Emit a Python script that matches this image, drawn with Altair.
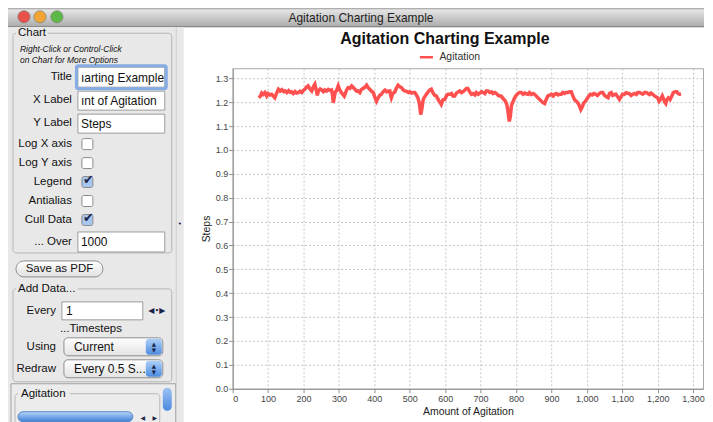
import altair as alt
import pandas as pd

# ------------------------------------------------------------------ data
chart_title = "Agitation Charting Example"
series_name = "Agitation"
x_title = "Amount of Agitation"
y_title = "Steps"
x_ticks = [0, 100, 200, 300, 400, 500, 600, 700, 800, 900, 1000, 1100, 1200, 1300]
y_ticks = [0.0, 0.1, 0.2, 0.3, 0.4, 0.5, 0.6, 0.7, 0.8, 0.9, 1.0, 1.1, 1.2, 1.3]

amount = [
    74, 78, 82, 86, 91, 96, 100, 105, 110, 114,
    119, 124, 129, 134, 139, 144, 148, 153, 158, 162,
    166, 171, 176, 180, 185, 190, 195, 200, 204, 208,
    213, 218, 223, 227, 232, 236, 239, 242, 247, 251,
    256, 260, 265, 270, 275, 279, 282, 284, 287, 290,
    293, 296, 298, 302, 307, 311, 315, 319, 322, 326,
    331, 336, 340, 345, 350, 354, 359, 363, 368, 373,
    378, 382, 387, 392, 397, 401, 406, 410, 415, 420,
    425, 430, 435, 440, 444, 446, 448, 452, 458, 462,
    467, 472, 477, 481, 486, 491, 496, 500, 505, 510,
    514, 518, 523, 527, 531, 534, 538, 542, 547, 552,
    556, 561, 566, 571, 575, 580, 585, 589, 594, 599,
    604, 608, 613, 618, 622, 627, 632, 637, 641, 646,
    650, 655, 660, 664, 669, 674, 679, 684, 688, 693,
    698, 703, 707, 712, 716, 721, 726, 731, 735, 740,
    745, 750, 754, 758, 762, 766, 770, 774, 777, 781,
    784, 787, 791, 795, 800, 805, 810, 815, 820, 825,
    829, 834, 838, 843, 848, 852, 857, 862, 867, 872,
    876, 881, 885, 890, 895, 900, 905, 909, 914, 919,
    923, 928, 932, 937, 941, 946, 951, 956, 960, 965,
    970, 975, 979, 983, 987, 991, 996, 1001, 1006, 1010,
    1015, 1020, 1025, 1030, 1035, 1040, 1045, 1050, 1055, 1060,
    1064, 1069, 1073, 1078, 1082, 1087, 1092, 1097, 1101, 1106,
    1111, 1116, 1120, 1125, 1130, 1135, 1140, 1144, 1149, 1154,
    1158, 1163, 1168, 1172, 1177, 1181, 1186, 1191, 1196, 1200,
    1204, 1209, 1213, 1217, 1220, 1223, 1226, 1230, 1235, 1240,
    1244, 1249, 1254, 1258, 1262, 1266,
]
steps = [
    1.218, 1.225, 1.238, 1.232, 1.240, 1.226, 1.236, 1.230, 1.233, 1.226,
    1.218, 1.238, 1.254, 1.246, 1.252, 1.244, 1.247, 1.240, 1.248, 1.241,
    1.243, 1.236, 1.244, 1.238, 1.240, 1.246, 1.240, 1.250, 1.254, 1.262,
    1.268, 1.255, 1.247, 1.262, 1.275, 1.250, 1.228, 1.247, 1.255, 1.251,
    1.244, 1.251, 1.246, 1.253, 1.249, 1.251, 1.228, 1.197, 1.222, 1.244,
    1.247, 1.260, 1.268, 1.252, 1.240, 1.232, 1.225, 1.240, 1.252, 1.261,
    1.258, 1.268, 1.262, 1.254, 1.246, 1.247, 1.240, 1.252, 1.257, 1.262,
    1.271, 1.262, 1.254, 1.246, 1.240, 1.222, 1.204, 1.216, 1.228, 1.233,
    1.244, 1.250, 1.243, 1.247, 1.247, 1.228, 1.218, 1.236, 1.243, 1.258,
    1.271, 1.264, 1.261, 1.252, 1.247, 1.245, 1.240, 1.243, 1.238, 1.240,
    1.240, 1.232, 1.218, 1.196, 1.148, 1.170, 1.211, 1.222, 1.233, 1.243,
    1.250, 1.254, 1.238, 1.228, 1.226, 1.212, 1.200, 1.190, 1.210, 1.211,
    1.228, 1.233, 1.233, 1.236, 1.226, 1.226, 1.238, 1.243, 1.247, 1.240,
    1.243, 1.250, 1.257, 1.257, 1.244, 1.233, 1.236, 1.230, 1.240, 1.233,
    1.238, 1.244, 1.240, 1.236, 1.247, 1.247, 1.240, 1.243, 1.236, 1.240,
    1.236, 1.228, 1.226, 1.226, 1.218, 1.211, 1.204, 1.190, 1.165, 1.119,
    1.140, 1.185, 1.200, 1.214, 1.228, 1.236, 1.240, 1.240, 1.233, 1.238,
    1.235, 1.233, 1.240, 1.232, 1.236, 1.233, 1.226, 1.218, 1.211, 1.204,
    1.198, 1.194, 1.210, 1.226, 1.229, 1.233, 1.226, 1.233, 1.236, 1.230,
    1.233, 1.233, 1.240, 1.236, 1.240, 1.240, 1.243, 1.243, 1.228, 1.211,
    1.204, 1.196, 1.184, 1.169, 1.180, 1.196, 1.204, 1.215, 1.226, 1.233,
    1.230, 1.236, 1.233, 1.228, 1.236, 1.240, 1.240, 1.228, 1.222, 1.218,
    1.236, 1.240, 1.228, 1.232, 1.233, 1.222, 1.211, 1.224, 1.233, 1.232,
    1.240, 1.236, 1.236, 1.228, 1.233, 1.236, 1.232, 1.240, 1.240, 1.236,
    1.233, 1.240, 1.240, 1.236, 1.232, 1.238, 1.233, 1.226, 1.222, 1.218,
    1.204, 1.214, 1.226, 1.212, 1.200, 1.194, 1.210, 1.218, 1.211, 1.226,
    1.240, 1.243, 1.243, 1.236, 1.233, 1.234,
]
assert len(amount) == len(steps)

data = pd.DataFrame({"amount": amount, "steps": steps, "series": series_name})

# ------------------------------------------------------------------ layout
OX, OY = 233, 68          # plot origin on the page
PW, PH = 471, 321         # plot size
FONT = "Liberation Sans"
SYM = "DejaVu Sans"


def boxes(rows, colors=None):
    d = pd.DataFrame(rows, columns=["X1", "Y1", "X2", "Y2"])
    out = pd.DataFrame({"x": d.X1 - OX, "x2": d.X2 - OX, "y": d.Y1 - OY, "y2": d.Y2 - OY})
    if colors is not None:
        out["c"] = colors
    return out


def rect_layer(rows, colors=None, **kw):
    enc = dict(
        x=alt.X("x:Q", scale=None, axis=None), x2=alt.X2("x2:Q"),
        y=alt.Y("y:Q", scale=None, axis=None), y2=alt.Y2("y2:Q"),
    )
    if colors is not None:
        enc["fill"] = alt.Fill("c:N", scale=None, legend=None)
    return alt.Chart(boxes(rows, colors)).mark_rect(**kw).encode(**enc)


def text_layer(rows, **kw):
    d = pd.DataFrame(rows, columns=["t", "X", "Y", "s"])
    d["x"] = d.X - OX
    d["y"] = d.Y - OY
    return alt.Chart(d).mark_text(baseline="middle", **kw).encode(
        x=alt.X("x:Q", scale=None, axis=None),
        y=alt.Y("y:Q", scale=None, axis=None),
        text="t:N",
        size=alt.Size("s:Q", scale=None, legend=None),
    )


def vgrad(c0, c1):
    return alt.LinearGradient(
        gradient="linear", x1=0, x2=0, y1=0, y2=1,
        stops=[alt.GradientStop(color=c0, offset=0), alt.GradientStop(color=c1, offset=1)],
    )


layers = []

# window title bar
layers.append(rect_layer([(8, 8, 705, 26)], fill=vgrad("#eaeaea", "#adadad")))
layers.append(rect_layer([(8, 8, 705, 9), (8, 26, 705, 27)], colors=["#9a9a9a", "#6a6a6a"]))
lights = pd.DataFrame({"x": [24 - OX, 40 - OX, 57 - OX], "y": [16.5 - OY] * 3,
                       "c": ["#e8524a", "#f0a534", "#5cb947"]})
layers.append(alt.Chart(lights).mark_point(filled=True, size=150, opacity=1,
                                           stroke="#777777", strokeWidth=0.6).encode(
    x=alt.X("x:Q", scale=None, axis=None), y=alt.Y("y:Q", scale=None, axis=None),
    fill=alt.Fill("c:N", scale=None, legend=None)))

# left control panel
layers.append(rect_layer([(8, 27, 184, 424), (176, 27, 177, 384), (11, 384, 176, 424)],
                         colors=["#e8e8e8", "#cfcfcf", "#ececec"]))
layers.append(rect_layer([(11, 384, 176, 424)], fill="#ececec", stroke="#a2a2a2", strokeWidth=1))
layers.append(rect_layer([(13, 33, 172, 253), (13, 289, 172, 382), (15, 394, 160, 424)],
                         fillOpacity=0, stroke="#b6b6b6", strokeWidth=1, cornerRadius=3))
layers.append(rect_layer([(16, 27, 48, 39), (16, 283, 78, 295), (18, 388, 70, 400)],
                         colors=["#e8e8e8", "#e8e8e8", "#ececec"]))
# text fields
layers.append(rect_layer([(78, 67, 165, 87), (78, 91, 165, 110), (78, 114, 165, 133),
                          (78, 232, 165, 252), (62, 302, 143, 320)],
                         fill="#ffffff", stroke="#9c9c9c", strokeWidth=1))
layers.append(rect_layer([(76.5, 65.5, 166.5, 88.5)], fillOpacity=0, stroke="#86ace4",
                         strokeWidth=3, cornerRadius=2))
# check boxes
layers.append(rect_layer([(82, 138.5, 93, 149.5), (82, 157.5, 93, 168.5), (82, 176.5, 93, 187.5),
                          (82, 195.5, 93, 206.5), (82, 214.5, 93, 225.5)],
                         colors=["#ffffff", "#ffffff", "#a9c6ef", "#ffffff", "#a9c6ef"],
                         stroke="#8a8a8a", strokeWidth=1, cornerRadius=2))
# buttons and combo boxes
layers.append(rect_layer([(16, 261, 103, 277)], fill=vgrad("#ffffff", "#e0e0e0"),
                         stroke="#8d8d8d", strokeWidth=1, cornerRadius=8))
layers.append(rect_layer([(64, 338, 163, 356), (64, 360, 163, 378)], fill=vgrad("#ffffff", "#e2e2e2"),
                         stroke="#8d8d8d", strokeWidth=1, cornerRadius=4))
layers.append(rect_layer([(146, 339, 162, 355), (146, 361, 162, 377)], fill=vgrad("#acd0f8", "#4d8ce0"),
                         cornerRadius=3))
layers.append(rect_layer([(163, 388, 172, 411)], fill=vgrad("#9cc2f4", "#4c8ade"), cornerRadius=4.5))
layers.append(rect_layer([(18, 412, 133, 422)], fill=vgrad("#b6d4f8", "#3d7fd9"),
                         stroke="#5a86c4", strokeWidth=1, cornerRadius=5))

# panel texts
layers.append(text_layer([
    ("Chart", 18, 33, 11.5), ("Add Data...", 18, 289, 11.5), ("...Timesteps", 60, 329, 11.5),
    ("Agitation", 21, 394, 11.5),
    ("\u0131arting Example", 81, 77.5, 12), ("\u0131nt of Agitation", 81, 100.5, 12),
    ("Steps", 81, 123.5, 12), ("1000", 81, 242.5, 12), ("1", 66, 311.5, 12),
    ("Current", 74, 347.5, 12), ("Every 0.5 S...", 74, 369.5, 12),
], align="left", font=FONT, color="#111111"))
layers.append(text_layer([
    ("Right-Click or Control-Click", 20, 49, 8.5), ("on Chart for More Options", 20, 60, 8.5),
], align="left", font=FONT, fontStyle="italic", color="#111111"))
layers.append(text_layer([
    ("Title", 72, 77, 11.5), ("X Label", 72, 100, 11.5), ("Y Label", 72, 123, 11.5),
    ("Log X axis", 72, 144, 11.5), ("Log Y axis", 72, 163, 11.5), ("Legend", 72, 182, 11.5),
    ("Antialias", 72, 201, 11.5), ("Cull Data", 72, 220, 11.5), ("... Over", 72, 242, 11.5),
    ("Every", 56, 311, 11.5), ("Using", 56, 347, 11.5), ("Redraw", 56, 369, 11.5),
], align="right", font=FONT, color="#111111"))
layers.append(text_layer([("Save as PDF", 59.5, 269, 11.5)], align="center", font=FONT, color="#111111"))
layers.append(text_layer([
    ("\u2714", 88.5, 180, 13), ("\u2714", 88.5, 218, 13),
    ("\u25c0\u2022\u25b6", 157, 311, 8),
    ("\u25b2", 154, 344, 5.5), ("\u25bc", 154, 350.5, 5.5),
    ("\u25b2", 154, 366, 5.5), ("\u25bc", 154, 372.5, 5.5),
    ("\u25c0", 143, 418, 6), ("\u25b6", 155, 418, 6), ("\u2022", 180, 224, 7),
], align="center", font=SYM, color="#1b2448"))

# window title and chart title
layers.append(text_layer([(chart_title, 361.5, 17.5, 12)], align="center", font=FONT, color="#222222"))
layers.append(text_layer([(chart_title, 445.5, 38.5, 16)], align="center", font=FONT,
                         fontWeight="bold", color="#111111"))

# ------------------------------------------------------------------ the data line
line = alt.Chart(data).mark_line(strokeWidth=3.5).encode(
    x=alt.X("amount:Q", scale=alt.Scale(domain=[0, 1328], nice=False, zero=False),
            axis=alt.Axis(values=x_ticks, format=",d", title=x_title, labelPadding=2, titlePadding=3)),
    y=alt.Y("steps:Q", scale=alt.Scale(domain=[0, 1.342], nice=False),
            axis=alt.Axis(values=y_ticks, format=".1f", title=y_title, labelPadding=1, titlePadding=4)),
    color=alt.Color("series:N", scale=alt.Scale(domain=[series_name], range=["#ff5050"]),
                    legend=alt.Legend(title=None, orient="none", legendX=186, legendY=-19,
                                      symbolType="stroke", symbolSize=170, symbolStrokeWidth=2.5,
                                      labelFont=FONT, labelFontSize=10.5, labelColor="#333333",
                                      labelOffset=5, padding=0)),
)
layers.append(line)

chart = (
    alt.layer(*layers)
    .properties(width=PW, height=PH, padding=0)
    .configure_view(stroke="#a9a9a9", strokeWidth=1)
    .configure_axis(
        grid=True, gridColor="#c6c6c6", gridDash=[2, 2], gridWidth=1,
        domainColor="#8e8e8e", tickColor="#8e8e8e", tickSize=4,
        labelFont=FONT, labelFontSize=9, labelColor="#444444",
        titleFont=FONT, titleFontSize=10.5, titleFontWeight="normal", titleColor="#222222",
    )
)

chart.save("out.html", embed_options={"renderer": "svg", "actions": False})
